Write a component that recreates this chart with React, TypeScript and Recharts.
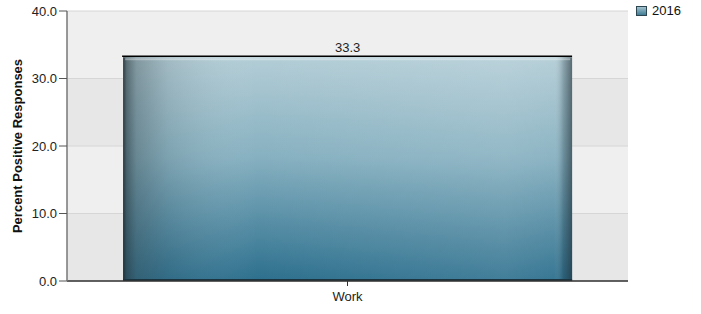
import React from 'react';
import { BarChart, Bar, XAxis, YAxis, CartesianGrid, LabelList } from 'recharts';

const categories = ['Work'];
const values2016 = [33.3];
const seriesName = '2016';
const yTicks = [0, 10, 20, 30, 40];

const data = categories.map((c, i) => ({ name: c, v2016: values2016[i] }));

const FONT = 'Arial, "Liberation Sans", sans-serif';

const GlossyBar = (props: any) => {
  const { x, y, width, height } = props;
  if (!width || !height) return null;
  return (
    <g>
      <defs>
        <linearGradient id="barV" x1="0" y1="0" x2="0" y2="1">
          <stop offset="0%" stopColor="#b3cdd6" />
          <stop offset="45%" stopColor="#86b0c0" />
          <stop offset="100%" stopColor="#2c6f8d" />
        </linearGradient>
        <linearGradient id="barH" x1="0" y1="0" x2="1" y2="0">
          <stop offset="0%" stopColor="#1e2a30" stopOpacity={0.9} />
          <stop offset="0.8%" stopColor="#2a3a40" stopOpacity={0.65} />
          <stop offset="3%" stopColor="#3a4a50" stopOpacity={0.4} />
          <stop offset="10%" stopColor="#445055" stopOpacity={0.15} />
          <stop offset="30%" stopColor="#ffffff" stopOpacity={0} />
          <stop offset="85%" stopColor="#ffffff" stopOpacity={0.1} />
          <stop offset="96%" stopColor="#ffffff" stopOpacity={0.05} />
          <stop offset="98%" stopColor="#203038" stopOpacity={0.25} />
          <stop offset="100%" stopColor="#1e2a30" stopOpacity={0.6} />
        </linearGradient>
      </defs>
      <rect x={x} y={y + 1} width={width} height={height - 1} fill="url(#barV)" />
      <rect x={x} y={y + 1} width={width} height={height - 1} fill="url(#barH)" />
      <rect x={x + 2} y={y + 2} width={width - 4} height={2} fill="#ffffff" fillOpacity={0.35} />
      <line x1={x - 1} x2={x + width} y1={y} y2={y} stroke="#000" strokeWidth={1.5} />
      <line x1={x} x2={x + width} y1={y + height - 1} y2={y + height - 1} stroke="#1b3440" strokeWidth={2} />
    </g>
  );
};

export default function App() {
  return (
    <div style={{ position: 'absolute', left: 0, top: 0, width: 701, height: 314, background: '#fff' }}>
      <BarChart
        width={701}
        height={314}
        data={data}
        margin={{ top: 11, right: 73, bottom: 0, left: 0 }}
        barCategoryGap="10%"
      >
        <CartesianGrid
          vertical={false}
          stroke="#d6d6d6"
          horizontalFill={['#efefef', '#e7e7e7']}
          fillOpacity={1}
        />
        <XAxis
          dataKey="name"
          height={33}
          tickSize={5}
          tickMargin={6}
          axisLine={{ stroke: '#333', strokeWidth: 1.5 }}
          tickLine={{ stroke: '#333' }}
          tick={{ fill: '#222', fontSize: 13, fontFamily: FONT }}
        />
        <YAxis
          width={67}
          domain={[0, 40]}
          ticks={yTicks}
          tickFormatter={(v: number) => v.toFixed(1)}
          tickSize={8}
          tickMargin={2}
          axisLine={{ stroke: '#777', strokeWidth: 1.5 }}
          tickLine={{ stroke: '#555' }}
          tick={{ fill: '#222', fontSize: 13, fontFamily: FONT }}
          label={{
            value: 'Percent Positive Responses',
            angle: -90,
            position: 'insideLeft',
            offset: 17,
            style: { textAnchor: 'middle', fontWeight: 'bold', fontSize: 13, fontFamily: FONT, fill: '#111' },
          }}
        />
        <Bar dataKey="v2016" name={seriesName} isAnimationActive={false} shape={<GlossyBar />}>
          <LabelList
            dataKey="v2016"
            position="top"
            offset={4}
            formatter={(v: any) => Number(v).toFixed(1)}
            style={{ fill: '#222', fontSize: 13, fontFamily: FONT }}
          />
        </Bar>
      </BarChart>
      <div
        style={{
          position: 'absolute',
          left: 636,
          top: 3,
          display: 'flex',
          alignItems: 'center',
          fontFamily: FONT,
          fontSize: 13,
          color: '#111',
        }}
      >
        <svg width={12} height={10} style={{ marginRight: 4 }}>
          <defs>
            <linearGradient id="legG" x1="0" y1="0" x2="0" y2="1">
              <stop offset="0%" stopColor="#a8c6d0" />
              <stop offset="100%" stopColor="#3a7892" />
            </linearGradient>
          </defs>
          <rect x={0.5} y={0.5} width={10} height={9} fill="url(#legG)" stroke="#2b4650" />
        </svg>
        <span>{seriesName}</span>
      </div>
    </div>
  );
}
